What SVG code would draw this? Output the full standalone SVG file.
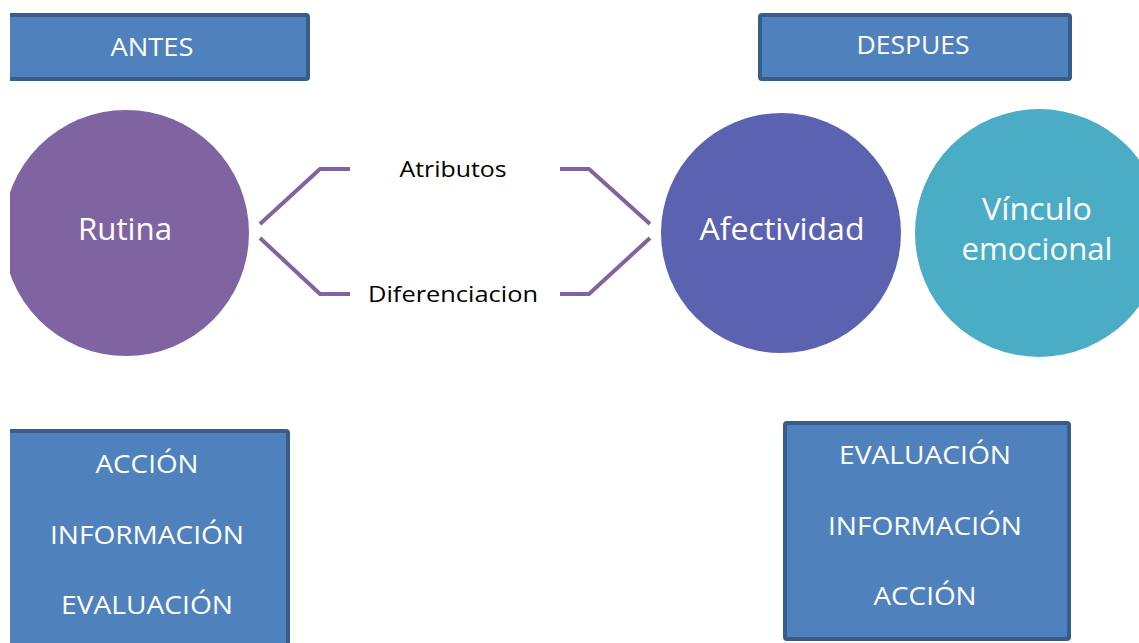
<svg xmlns="http://www.w3.org/2000/svg" width="1139" height="643" viewBox="0 0 1139 643">
<style>
.box{fill:#4f81bd;stroke:#385d8a;stroke-width:4}
.bt{font-family:"Open Sans","Liberation Sans",sans-serif;fill:#ffffff;text-anchor:middle}
.ct{font-family:"Open Sans","Liberation Sans",sans-serif;fill:#ffffff;text-anchor:middle;font-size:31px}
.lbl{font-family:"Open Sans","Liberation Sans",sans-serif;fill:#000000;text-anchor:middle;font-size:22px}
.con{fill:none;stroke:#8064a2;stroke-width:4}
</style>
<rect width="1139" height="643" fill="#ffffff"/>
<g id="antes">
<rect class="box" x="-10" y="15" width="318" height="64" rx="2"/>
<rect x="0" y="0" width="10" height="100" fill="#ffffff"/>
<text class="bt" x="152" y="56" font-size="25" textLength="83" lengthAdjust="spacingAndGlyphs">ANTES</text>
</g>
<g id="despues">
<rect class="box" x="760" y="15" width="310" height="64" rx="2"/>
<text class="bt" x="913" y="54" font-size="25" textLength="113" lengthAdjust="spacingAndGlyphs">DESPUES</text>
</g>
<g id="rutina">
<circle cx="126" cy="233" r="123" fill="#8064a2"/>
<rect x="0" y="100" width="10" height="270" fill="#ffffff"/>
<text class="ct" x="125" y="240" textLength="94" lengthAdjust="spacingAndGlyphs">Rutina</text>
</g>
<g id="afectividad">
<circle cx="781" cy="233" r="120" fill="#5b63b1"/>
<text class="ct" x="782" y="240" textLength="165" lengthAdjust="spacingAndGlyphs">Afectividad</text>
</g>
<g id="vinculo">
<circle cx="1039" cy="233" r="124" fill="#4bacc6"/>
<text class="ct" x="1037" y="220" textLength="110" lengthAdjust="spacingAndGlyphs">Vínculo</text>
<text class="ct" x="1037" y="260" textLength="151" lengthAdjust="spacingAndGlyphs">emocional</text>
</g>
<g id="connectors">
<polyline class="con" points="260,224 320,169 350,169"/>
<polyline class="con" points="260,238 320,294 350,294"/>
<polyline class="con" points="560,169 589,169 650,224"/>
<polyline class="con" points="560,294 589,294 650,238"/>
<text class="lbl" x="453" y="177" textLength="107" lengthAdjust="spacingAndGlyphs">Atributos</text>
<text class="lbl" x="453" y="302" textLength="170" lengthAdjust="spacingAndGlyphs">Diferenciacion</text>
</g>
<g id="izq">
<rect class="box" x="-10" y="431" width="298" height="230" rx="2"/>
<rect x="0" y="420" width="10" height="223" fill="#ffffff"/>
<text class="bt" x="147" y="473" font-size="25" textLength="103" lengthAdjust="spacingAndGlyphs">ACCIÓN</text>
<text class="bt" x="147" y="544" font-size="25" textLength="194" lengthAdjust="spacingAndGlyphs">INFORMACIÓN</text>
<text class="bt" x="147" y="614" font-size="25" textLength="172" lengthAdjust="spacingAndGlyphs">EVALUACIÓN</text>
</g>
<g id="der">
<rect class="box" x="785" y="423" width="284" height="216" rx="2"/>
<text class="bt" x="925" y="464" font-size="25" textLength="172" lengthAdjust="spacingAndGlyphs">EVALUACIÓN</text>
<text class="bt" x="925" y="535" font-size="25" textLength="194" lengthAdjust="spacingAndGlyphs">INFORMACIÓN</text>
<text class="bt" x="925" y="605" font-size="25" textLength="103" lengthAdjust="spacingAndGlyphs">ACCIÓN</text>
</g>
</svg>
